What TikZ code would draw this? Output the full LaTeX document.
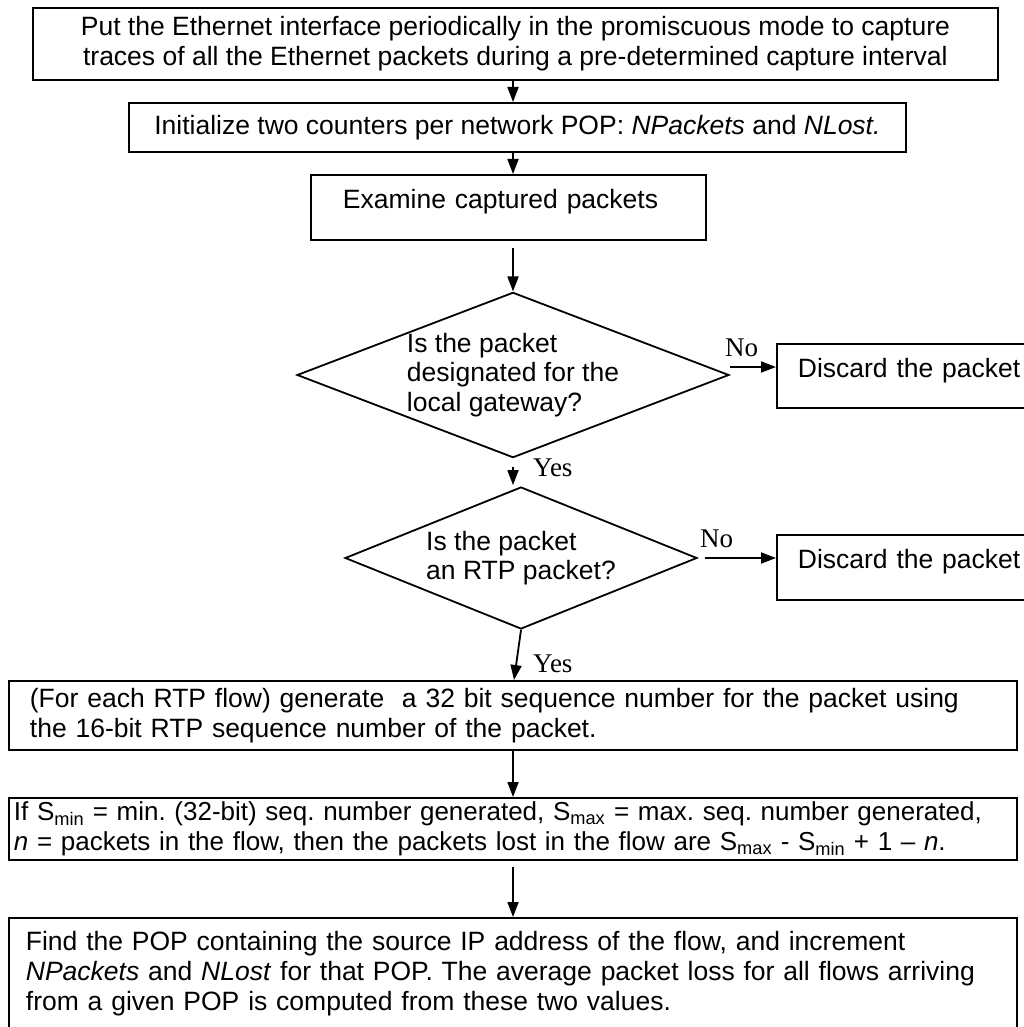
\documentclass[tikz,border=0pt]{standalone}
\usepackage{fontspec}
\setmainfont{Liberation Sans}
\newfontfamily\answerfont{Liberation Serif}
\usetikzlibrary{arrows.meta,shapes.geometric}
\frenchspacing

\begin{document}
\begin{tikzpicture}[x=1pt,y=-1pt,
		box/.style={draw, line width=1.8pt, inner sep=0pt, font=\fontsize{26.5}{30}\selectfont},
		decision/.style={draw, shape=diamond, line width=1.8pt, inner sep=0pt, align=left, font=\fontsize{26.5}{29.5}\selectfont},
		flow/.style={line width=1.8pt, -{Triangle[length=15pt,width=11pt]}},
		answer/.style={inner sep=0pt, anchor=base west, font=\answerfont\fontsize{27}{27}\selectfont}]
		%%%%% START %%%%%
		
		\useasboundingbox (0, 0) rectangle (1024, 1027);
		
		% top of the chart
		\node[box, anchor=north west, minimum width=965pt, minimum height=72pt, align=center] (capture) at (32, 7)
			{Put the Ethernet interface periodically in the promiscuous mode to capture\\traces of all the Ethernet packets during a pre-determined capture interval};
		\node[box, anchor=north west, minimum width=777pt, minimum height=49pt] (init) at (128, 102)
			{Initialize two counters per network POP: \textit{NPackets} and \textit{NLost.}};
		\node[box, anchor=north west, inner xsep=32pt, text width=331pt, align=left, text height=34pt, text depth=31pt] (examine) at (310, 174)
			{Examine captured packets};
		
		% the two tests
		\node[decision, aspect=2.6, minimum width=432pt, minimum height=162pt] (gateway) at (513, 375)
			{Is the packet\\designated for the\\local gateway?};
		\node[box, anchor=north west, inner xsep=21pt, text width=240pt, align=left, text height=34pt, text depth=30pt] (drop1) at (776, 343)
			{Discard the packet};
		
		\node[decision, aspect=2.48, minimum width=352pt, minimum height=142pt] (rtp) at (521, 558)
			{Is the packet\\an RTP packet?};
		\node[box, anchor=north west, inner xsep=21pt, text width=240pt, align=left, text height=34pt, text depth=31pt] (drop2) at (776, 534)
			{Discard the packet};
		
		% per flow work
		\node[box, anchor=north west, minimum width=1008pt, minimum height=69pt, inner xsep=21pt, align=left, text width=966pt] (seqnum) at (8, 680)
			{(For each RTP flow) generate\ \ a 32 bit sequence number for the packet using\\the 16-bit RTP sequence number of the packet.};
		\node[box, anchor=north west, minimum width=1008pt, minimum height=62pt, inner xsep=5pt, align=left, text width=998pt, font=\fontsize{26}{30}\selectfont] (lost) at (8, 797)
			{If S\textsubscript{min} = min. (32-bit) seq. number generated, S\textsubscript{max} = max. seq. number generated,\\\textit{n} = packets in the flow, then the packets lost in the flow are S\textsubscript{max} - S\textsubscript{min} + 1 -- \textit{n}.};
		\node[box, anchor=north west, minimum width=1008pt, minimum height=112pt, inner xsep=17pt, align=left, text width=974pt] (popcount) at (8, 917)
			{Find the POP containing the source IP address of the flow, and increment\\\textit{NPackets} and \textit{NLost} for that POP. The average packet loss for all flows arriving\\from a given POP is computed from these two values.};
		
		% connectors
		\draw[flow] (capture.south -| 513, 0) -- (init.north -| 513, 0);
		\draw[flow] (init.south -| 513, 0) -- (examine.north -| 513, 0);
		\draw[flow, shorten <=7pt] (examine.south -| 513, 0) -- (gateway.north);
		\draw[flow] ([yshift=8pt]gateway.east) -- (drop1.west |- 0, 367);
		\draw[flow, shorten <=8pt, shorten >=1pt] (gateway.south) -- (gateway.south |- rtp.north);
		\draw[flow, shorten <=7pt] (rtp.east) -- (drop2.west |- rtp.east);
		\draw[flow] (rtp.south) -- (seqnum.north -| 514, 0);
		\draw[flow] (seqnum.south -| 513, 0) -- (lost.north -| 513, 0);
		\draw[flow, shorten <=6pt] (lost.south -| 513, 0) -- (popcount.north -| 513, 0);
		
		% answers
		\node[answer] (no1) at (725, 356) {No};
		\node[answer] (yes1) at (533, 476) {Yes};
		\node[answer] (no2) at (700, 547) {No};
		\node[answer] (yes2) at (533, 672) {Yes};
		
		%%%%% END %%%%%
\end{tikzpicture}
\end{document}
